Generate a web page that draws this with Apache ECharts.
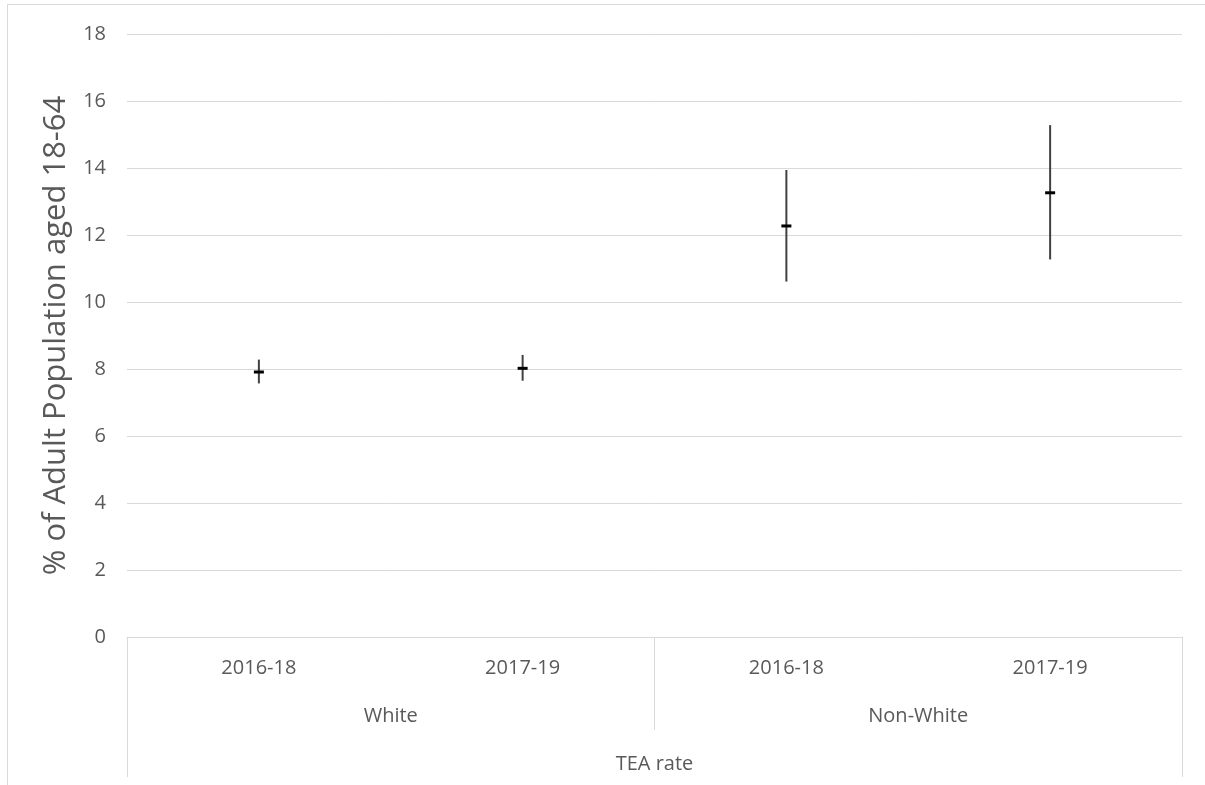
<!DOCTYPE html>
<html>
<head>
<meta charset="utf-8">
<script src="https://cdn.jsdelivr.net/npm/echarts@6/dist/echarts.min.js"></script>
<style>
html,body{margin:0;padding:0;background:#fff;}
#chart{width:1205px;height:785px;}
</style>
</head>
<body>
<div id="chart"></div>
<script>
// ---- data ----
var periods = ['2016-18', '2017-19', '2016-18', '2017-19'];
var groups = ['White', 'Non-White'];
var groupOfPoint = [0, 0, 1, 1];
var topLabel = ['TEA rate'];
var meanValues = [7.91, 8.02, 12.27, 13.26];
var lowValues = [7.57, 7.65, 10.61, 11.27];
var highValues = [8.28, 8.42, 13.94, 15.28];
var yTicks = [0, 2, 4, 6, 8, 10, 12, 14, 16, 18];
var yTitle = '% of Adult Population aged 18-64';

var FONT = 'Open Sans';
var TXT = '#595959';
var GRID = '#d9d9d9';

var catKeys = periods.map(function (p, i) { return groups[groupOfPoint[i]] + '|' + p; });
var rows = periods.map(function (p, i) { return [i, lowValues[i], highValues[i], meanValues[i]]; });

var chart = echarts.init(document.getElementById('chart'));
chart.setOption({
  animation: false,
  backgroundColor: '#fff',
  textStyle: { fontFamily: FONT },
  graphic: [{
    type: 'rect', shape: { x: 7.5, y: 4.5, width: 1300, height: 900 },
    style: { fill: 'none', stroke: GRID, lineWidth: 1 }, silent: true, z: -1
  }],
  grid: { left: 127, right: 23, top: 34, bottom: 148, containLabel: false },
  xAxis: [{
    type: 'category', data: catKeys, position: 'bottom',
    axisLine: { show: true, lineStyle: { color: GRID, width: 1 } },
    axisTick: { show: false },
    axisLabel: { margin: 21, fontSize: 20, color: TXT, fontFamily: FONT, interval: 0,
      formatter: function (v) { return v.split('|')[1]; } },
    splitLine: { show: false }
  }, {
    type: 'category', data: groups, position: 'bottom', gridIndex: 0,
    axisLine: { show: false },
    axisTick: { show: true, length: 93, interval: 0, lineStyle: { color: GRID, width: 1 } },
    axisLabel: { margin: 69, fontSize: 20, color: TXT, fontFamily: FONT, interval: 0 },
    splitLine: { show: false }
  }, {
    type: 'category', data: topLabel, position: 'bottom', gridIndex: 0,
    axisLine: { show: false },
    axisTick: { show: true, length: 140, interval: 0, lineStyle: { color: GRID, width: 1 } },
    axisLabel: { margin: 117, fontSize: 20, color: TXT, fontFamily: FONT },
    splitLine: { show: false }
  }],
  yAxis: {
    type: 'value', min: yTicks[0], max: yTicks[yTicks.length - 1], interval: 2,
    name: yTitle, nameLocation: 'middle', nameGap: 55, nameRotate: 90,
    nameTextStyle: { fontSize: 31, color: TXT, fontFamily: FONT },
    axisLine: { show: false }, axisTick: { show: false },
    axisLabel: { margin: 21, fontSize: 20, color: TXT, fontFamily: FONT },
    splitLine: { show: true, lineStyle: { color: GRID, width: 1 } }
  },
  series: [{
    type: 'custom', xAxisIndex: 0, yAxisIndex: 0,
    data: rows,
    encode: { x: 0, y: [1, 2, 3] },
    renderItem: function (params, api) {
      var x = api.value(0);
      var lo = api.coord([x, api.value(1)]);
      var hi = api.coord([x, api.value(2)]);
      var mid = api.coord([x, api.value(3)]);
      return {
        type: 'group',
        children: [{
          type: 'line',
          shape: { x1: lo[0], y1: lo[1], x2: hi[0], y2: hi[1] },
          style: { stroke: '#404040', lineWidth: 2 }
        }, {
          type: 'rect',
          shape: { x: mid[0] - 5, y: mid[1] - 1.5, width: 10, height: 3 },
          style: { fill: '#000' }
        }]
      };
    }
  }]
});
</script>
</body>
</html>
